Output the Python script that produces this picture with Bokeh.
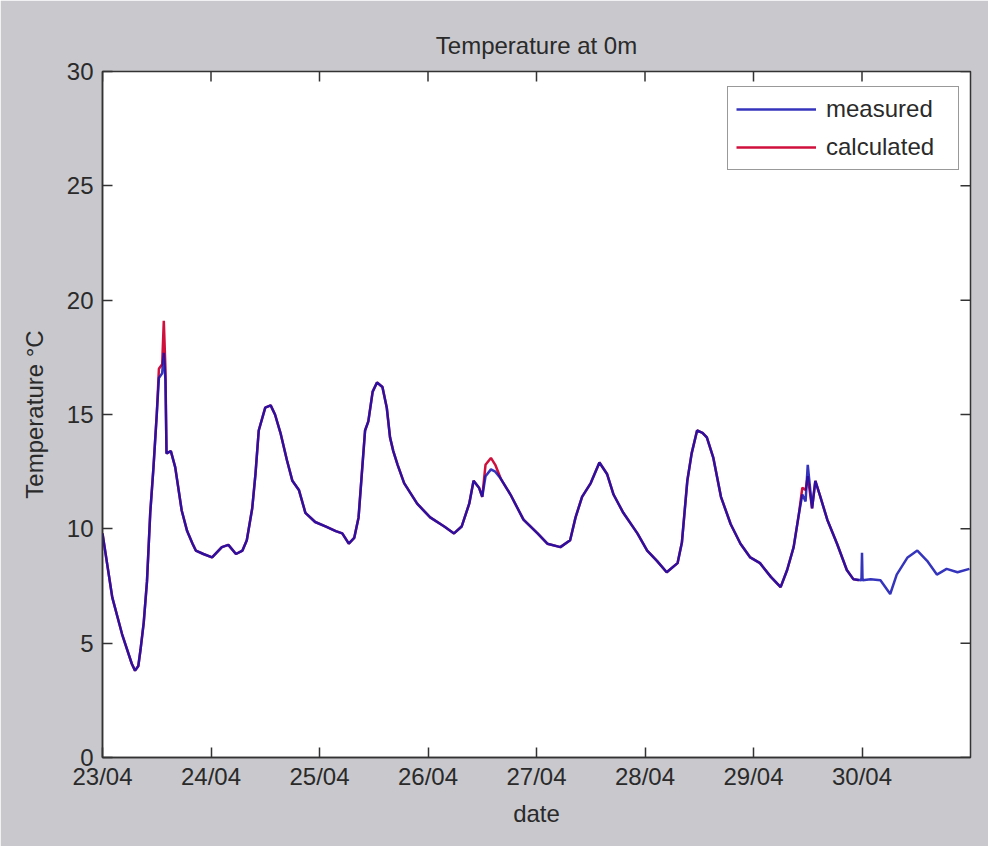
import math
from bokeh.plotting import figure
from bokeh.models import FixedTicker, Range1d
from bokeh.embed import file_html
from bokeh.resources import INLINE

# ---- data (days since 23/04 00:00, temperature in °C) ----
measured_day = [0.00, 0.09, 0.18, 0.27, 0.30, 0.33, 0.35, 0.38, 0.41, 0.44, 0.47, 0.50, 0.52, 0.55, 0.565, 0.58,
                0.59, 0.63, 0.67, 0.73, 0.78, 0.83, 0.86, 0.93, 1.01, 1.10, 1.16, 1.23, 1.29, 1.33, 1.38, 1.41,
                1.44, 1.50, 1.55, 1.59, 1.64, 1.70, 1.75, 1.81, 1.87, 1.96, 2.06, 2.15, 2.21, 2.27, 2.32, 2.36,
                2.39, 2.42, 2.45, 2.49, 2.53, 2.58, 2.62, 2.65, 2.68, 2.72, 2.78, 2.90, 3.02, 3.15, 3.24, 3.31,
                3.38, 3.42, 3.47, 3.50, 3.53, 3.58, 3.62, 3.67, 3.76, 3.88, 4.01, 4.10, 4.22, 4.31, 4.36, 4.42,
                4.50, 4.58, 4.65, 4.71, 4.80, 4.93, 5.02, 5.11, 5.20, 5.30, 5.34, 5.39, 5.43, 5.48, 5.53, 5.57,
                5.63, 5.70, 5.79, 5.88, 5.97, 6.06, 6.16, 6.25, 6.31, 6.37, 6.42, 6.45, 6.48, 6.50, 6.54, 6.57,
                6.61, 6.68, 6.77, 6.86, 6.92, 6.995, 7.00, 7.005, 7.08, 7.17, 7.26, 7.32, 7.42, 7.51, 7.60, 7.69,
                7.78, 7.88, 7.99]
measured_temp = [9.8, 7.0, 5.4, 4.1, 3.8, 4.0, 4.7, 5.9, 7.7, 10.7, 12.7, 15.0, 16.6, 16.8, 17.7, 16.5,
                 13.3, 13.4, 12.7, 10.8, 9.9, 9.35, 9.05, 8.9, 8.75, 9.2, 9.3, 8.9, 9.05, 9.5, 10.9, 12.4,
                 14.3, 15.3, 15.4, 15.0, 14.2, 13.0, 12.1, 11.7, 10.7, 10.3, 10.1, 9.9, 9.8, 9.35, 9.6, 10.5,
                 12.4, 14.3, 14.7, 16.0, 16.4, 16.2, 15.3, 14.0, 13.4, 12.8, 12.0, 11.1, 10.5, 10.1, 9.8, 10.1,
                 11.1, 12.1, 11.8, 11.4, 12.3, 12.6, 12.5, 12.2, 11.5, 10.4, 9.8, 9.35, 9.2, 9.5, 10.5, 11.4,
                 12.0, 12.9, 12.4, 11.5, 10.7, 9.8, 9.05, 8.6, 8.1, 8.5, 9.4, 12.1, 13.3, 14.3, 14.2, 14.0,
                 13.1, 11.4, 10.2, 9.35, 8.75, 8.5, 7.9, 7.45, 8.2, 9.2, 10.7, 11.5, 11.2, 12.8, 10.9, 12.1,
                 11.5, 10.4, 9.35, 8.2, 7.8, 7.75, 8.95, 7.75, 7.8, 7.75, 7.15, 8.0, 8.75, 9.05, 8.6, 8.0,
                 8.25, 8.1, 8.25]

calc_day = [0.00, 0.09, 0.18, 0.27, 0.30, 0.33, 0.35, 0.38, 0.41, 0.44, 0.47, 0.50, 0.52, 0.55, 0.565, 0.58,
            0.59, 0.63, 0.67, 0.73, 0.78, 0.83, 0.86, 0.93, 1.01, 1.10, 1.16, 1.23, 1.29, 1.33, 1.38, 1.41,
            1.44, 1.50, 1.55, 1.59, 1.64, 1.70, 1.75, 1.81, 1.87, 1.96, 2.06, 2.15, 2.21, 2.27, 2.32, 2.36,
            2.39, 2.42, 2.45, 2.49, 2.53, 2.58, 2.62, 2.65, 2.68, 2.72, 2.78, 2.90, 3.02, 3.15, 3.24, 3.31,
            3.38, 3.42, 3.47, 3.50, 3.53, 3.58, 3.62, 3.67, 3.76, 3.88, 4.01, 4.10, 4.22, 4.31, 4.36, 4.42,
            4.50, 4.58, 4.65, 4.71, 4.80, 4.93, 5.02, 5.11, 5.20, 5.30, 5.34, 5.39, 5.43, 5.48, 5.53, 5.57,
            5.63, 5.70, 5.79, 5.88, 5.97, 6.06, 6.16, 6.25, 6.31, 6.37, 6.42, 6.45, 6.48, 6.50, 6.54, 6.57,
            6.61, 6.68, 6.77, 6.86, 6.92, 6.97]
calc_temp = [9.8, 7.0, 5.4, 4.1, 3.8, 4.0, 4.7, 5.9, 7.7, 10.7, 12.7, 15.0, 17.0, 17.2, 19.1, 17.0,
             13.3, 13.4, 12.7, 10.8, 9.9, 9.35, 9.05, 8.9, 8.75, 9.2, 9.3, 8.9, 9.05, 9.5, 10.9, 12.4,
             14.3, 15.3, 15.4, 15.0, 14.2, 13.0, 12.1, 11.7, 10.7, 10.3, 10.1, 9.9, 9.8, 9.35, 9.6, 10.5,
             12.4, 14.3, 14.7, 16.0, 16.4, 16.2, 15.3, 14.0, 13.4, 12.8, 12.0, 11.1, 10.5, 10.1, 9.8, 10.1,
             11.1, 12.1, 11.8, 11.4, 12.8, 13.1, 12.8, 12.2, 11.5, 10.4, 9.8, 9.35, 9.2, 9.5, 10.5, 11.4,
             12.0, 12.9, 12.4, 11.5, 10.7, 9.8, 9.05, 8.6, 8.1, 8.5, 9.4, 12.1, 13.3, 14.3, 14.2, 14.0,
             13.1, 11.4, 10.2, 9.35, 8.75, 8.5, 7.9, 7.45, 8.2, 9.2, 10.7, 11.8, 11.7, 12.3, 10.9, 12.1,
             11.5, 10.4, 9.35, 8.2, 7.8, 7.75]

x_ticks = [0, 1, 2, 3, 4, 5, 6, 7]
x_tick_labels = ["23/04", "24/04", "25/04", "26/04", "27/04", "28/04", "29/04", "30/04"]
y_ticks = [0, 5, 10, 15, 20, 25, 30]
x_lim = (0, 8)
y_lim = (0, 30)

FONT = "Liberation Sans"
TXT = "#2a2a2a"
AX = "#333333"

p = figure(width=988, height=846, x_range=Range1d(*x_lim), y_range=Range1d(*y_lim),
           output_backend="svg", toolbar_location=None,
           min_border_left=102, min_border_right=18, min_border_top=71, min_border_bottom=89,
           background_fill_color="white", border_fill_color="#c8c8cd",
           outline_line_color=AX, outline_line_width=1.5)
p.grid.visible = False

p.title.text = "Temperature at 0m"
p.title.align = "center"
p.title.text_font = FONT
p.title.text_font_size = "24px"
p.title.text_font_style = "normal"
p.title.text_color = TXT
p.title.standoff = 25

p.xaxis.ticker = FixedTicker(ticks=x_ticks, minor_ticks=[])
p.xaxis.major_label_overrides = {t: lab for t, lab in zip(x_ticks, x_tick_labels)}
p.yaxis.ticker = FixedTicker(ticks=y_ticks, minor_ticks=[])
p.xaxis.axis_label = "date"
p.yaxis.axis_label = "Temperature °C"

for ax in (p.xaxis[0], p.yaxis[0]):
    ax.axis_line_color = AX
    ax.axis_line_width = 1.5
    ax.major_tick_in = 10
    ax.major_tick_out = 0
    ax.major_tick_line_color = AX
    ax.major_tick_line_width = 1.5
    ax.major_label_text_font = FONT
    ax.major_label_text_font_size = "24px"
    ax.major_label_text_color = TXT
    ax.axis_label_text_font = FONT
    ax.axis_label_text_font_size = "24px"
    ax.axis_label_text_font_style = "normal"
    ax.axis_label_text_color = TXT
p.xaxis.major_label_standoff = 5
p.xaxis.axis_label_standoff = 7
p.yaxis.major_label_standoff = 9
p.yaxis.axis_label_standoff = 16

# inward ticks on the top and right edges of the box (MATLAB "box on")
p.ray(x=x_ticks, y=[y_lim[1]] * len(x_ticks), length=10, length_units="screen",
      angle=-math.pi / 2, line_color=AX, line_width=1.5)
p.ray(x=[x_lim[1]] * len(y_ticks), y=y_ticks, length=10, length_units="screen",
      angle=math.pi, line_color=AX, line_width=1.5)

p.line(calc_day, calc_temp, line_color="#d0103c", line_width=2.5, legend_label="calculated")
p.line(measured_day, measured_temp, line_color="#1010b0", line_width=2.5, line_alpha=0.85,
       legend_label="measured")

lg = p.legend[0]
lg.items = [lg.items[1], lg.items[0]]
lg.location = (625, 587)
lg.label_text_font = FONT
lg.label_text_font_size = "24px"
lg.label_text_color = TXT
lg.glyph_width = 80
lg.glyph_height = 24
lg.label_height = 24
lg.label_width = 124
lg.label_standoff = 10
lg.padding = 8
lg.spacing = 10
lg.border_line_color = AX
lg.border_line_width = 1.5
lg.background_fill_color = "white"
lg.background_fill_alpha = 1.0
lg.margin = 0

open("out.html", "w").write(file_html(p, INLINE))
